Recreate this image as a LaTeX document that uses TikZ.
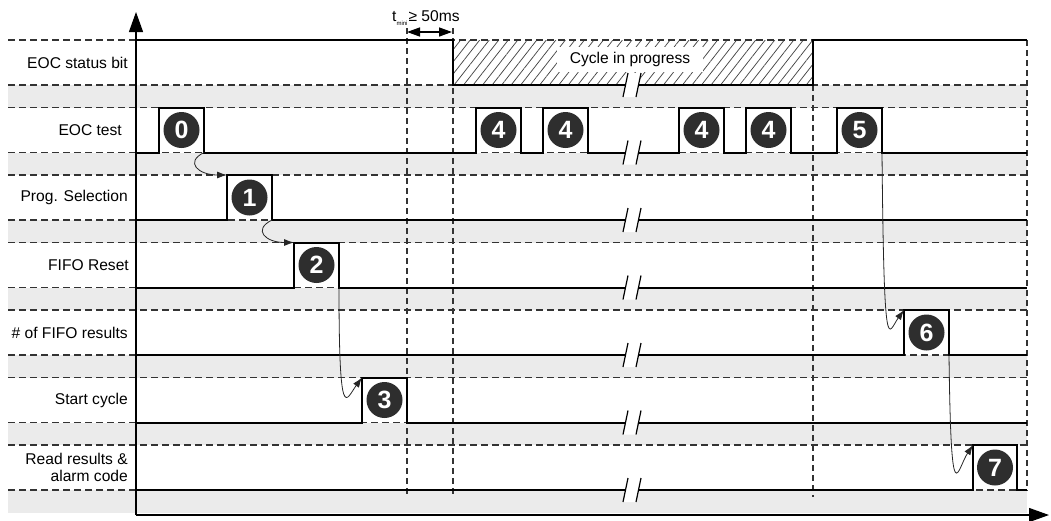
\documentclass[tikz,border=0pt]{standalone}
\usepackage{fontspec}
\setmainfont{Liberation Sans}
\usetikzlibrary{arrows.meta,patterns.meta}
\begin{document}
\begin{tikzpicture}[x=1pt,y=-1pt,
  gridline/.style={dash pattern=on 7pt off 4pt, line width=1.1pt, black!80},
  vgrid/.style={dash pattern=on 6pt off 4pt, line width=1.1pt, black!80},
  band/.style={fill=black!8},
  sig/.style={line width=2pt, line join=miter},
  brk/.style={line width=1.2pt},
  lbl/.style={anchor=east, inner sep=0pt, font=\fontsize{15.6}{17.5}\selectfont},
  numc/.style={circle, fill=black!82, text=white, minimum size=36pt, inner sep=0pt, font=\bfseries\fontsize{25}{25}\selectfont},
  conn/.style={-{Latex[length=10pt,width=7pt]}, line width=0.8pt, black!85},
  axis/.style={-{Triangle[length=20pt,width=14pt]}, line width=1.3pt},
  hatch/.style={pattern={Lines[angle=52,distance=7.5pt,line width=0.75pt]}, pattern color=black!72}
]
\useasboundingbox (0,0) rectangle (1051,520);
% hatched cycle region
\fill[hatch] (453,40) rectangle (813,85);
% grey bands and dashed row lines
\foreach \i in {0,...,6} {
  \pgfmathsetmacro\T{40+67.5*\i}
  \fill[band] (8,{\T+45}) rectangle (1027,{\T+67.5});
  \draw[gridline] (8,\T) -- (1027,\T);
  \draw[gridline] (8,{\T+45}) -- (1027,{\T+45});
}
% vertical dashed markers
\draw[vgrid] (407,28) -- (407,497);
\draw[vgrid] (453,28) -- (453,497);
\draw[vgrid] (813,85) -- (813,497);
\draw[vgrid] (1027,40) -- (1027,491);
% text box in hatched region
\node[fill=white, minimum width=146pt, minimum height=25pt, inner sep=0pt,
      font=\fontsize{15.6}{17.5}\selectfont] (cyc) at (630,59.5) {Cycle in progress};
% signals
\draw[sig] (136,40) -- (453,40) -- (453,85) -- (813,85) -- (813,40) -- (1027,40);
\draw[sig] (136,152.5) \foreach \s in {159,476,543,679,746,837} { -- (\s,152.5) -- (\s,107.5) -- ({\s+45},107.5) -- ({\s+45},152.5) } -- (1027,152.5);
\draw[sig] (136,220) -- (227,220) -- (227,175) -- (272,175) -- (272,220) -- (1027,220);
\draw[sig] (136,287.5) -- (294,287.5) -- (294,242.5) -- (339,242.5) -- (339,287.5) -- (1027,287.5);
\draw[sig] (136,355) -- (904,355) -- (904,310) -- (949,310) -- (949,355) -- (1027,355);
\draw[sig] (136,422.5) -- (362,422.5) -- (362,377.5) -- (407,377.5) -- (407,422.5) -- (1027,422.5);
\draw[sig] (136,490) -- (973,490) -- (973,445) -- (1017,445) -- (1017,490) -- (1027,490);
% breaks
\foreach \y in {85,152.5,220,287.5,355,422.5,490} {
  \fill[white] (623,{\y+12}) -- (628,{\y-12}) -- (641,{\y-12}) -- (636,{\y+12}) -- cycle;
  \draw[brk] (623,{\y+12}) -- (628,{\y-12}) (636,{\y+12}) -- (641,{\y-12});
}
% numbered circles
\node[numc] (c0) at (181.5,130) {0};
\node[numc] (c1) at (249.5,197.5) {1};
\node[numc] (c2) at (316.5,265) {2};
\node[numc] (c3) at (384.5,400) {3};
\node[numc] (c4a) at (498.5,130) {4};
\node[numc] (c4b) at (565.5,130) {4};
\node[numc] (c4c) at (701.5,130) {4};
\node[numc] (c4d) at (768.5,130) {4};
\node[numc] (c5) at (859.5,130) {5};
\node[numc] (c6) at (926.5,332.5) {6};
\node[numc] (c7) at (995,467.5) {7};
% edge coordinates
\coordinate (f0) at (204,152.5);
\coordinate (r1) at (227,175);
\coordinate (f1) at (272,220);
\coordinate (r2) at (294,242.5);
\coordinate (f2) at (339,287.5);
\coordinate (r3) at (362,377.5);
\coordinate (f5) at (882,152.5);
\coordinate (r6) at (904,310);
\coordinate (f6) at (949,355);
\coordinate (r7) at (973,445);
% connectors
\draw[conn] (f0) .. controls +(-20,10) and +(-28,0) .. (r1);
\draw[conn] (f1) .. controls +(-20,10) and +(-28,0) .. (r2);
\draw[conn] (f2) .. controls +(0,140) and +(-16,22) .. (r3);
\draw[conn] (f5) .. controls +(2,215) and +(-16,22) .. (r6);
\draw[conn] (f6) .. controls +(2,165) and +(-16,24) .. (r7);
% t_mini
\coordinate (ta) at (407,32);
\coordinate (tb) at (452,32);
\draw[{Triangle[length=13pt,width=9pt]}-{Triangle[length=13pt,width=9pt]}, line width=1.4pt] (ta) -- (tb);
\node[anchor=base west, inner sep=0pt, font=\fontsize{15.6}{17.5}\selectfont] (tlab) at (392,21)
  {t\raisebox{-4pt}{\fontsize{6}{6}\selectfont mini}\kern1pt≥ 50ms};
% axes
\coordinate (o) at (136,515);
\coordinate (ytip) at (136,12);
\coordinate (xtip) at (1049,515);
\draw[axis] (o) -- (ytip);
\draw[axis] (o) -- (xtip);
% labels
\node[lbl] (l1) at (128,62.5) {EOC status bit};
\node[lbl] (l2) at (122,130) {EOC test};
\node[lbl] (l3) at (128,197.5) {Prog. Selection};
\node[lbl] (l4) at (129,265) {FIFO Reset};
\node[lbl] (l5) at (128,332.5) {\# of FIFO results};
\node[lbl] (l6) at (128,400) {Start cycle};
\node[lbl, align=right] (l7) at (128,467.5) {Read results \&\\alarm code};
\end{tikzpicture}
\end{document}
